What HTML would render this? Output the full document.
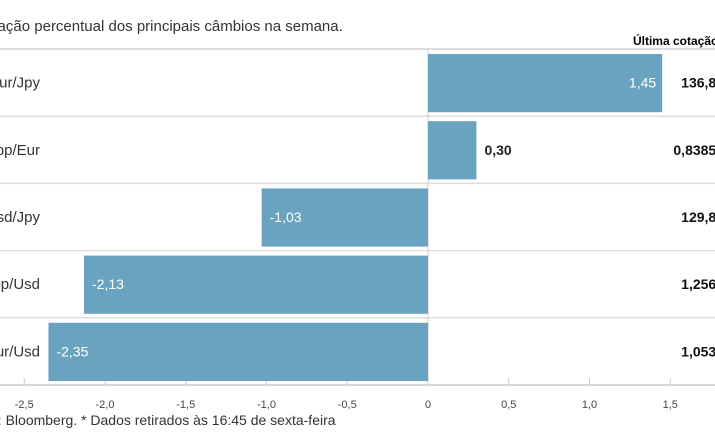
<!DOCTYPE html>
<html><head><meta charset="utf-8"><style>
body{margin:0;width:715px;height:445px;overflow:hidden;background:#fff;font-family:"Liberation Sans Narrow","Liberation Sans",sans-serif;color:#222;position:relative}
svg{position:absolute;left:0;top:0}
</style></head><body>
<svg width="715" height="445" id="c" font-family="Liberation Sans Narrow, Liberation Sans, sans-serif">
<text x="-28" y="31" font-size="15" fill="#333">Variação percentual dos principais câmbios na semana.</text>
<text x="723" y="45" font-size="12" font-weight="bold" text-anchor="end">Última cotação*</text>
<text x="-38" y="425" font-size="14" fill="#333">Fonte: Bloomberg.  * Dados retirados às 16:45 de sexta-feira</text>
</svg>
<script>
const categories=["Eur/Jpy","Gbp/Eur","Usd/Jpy","Gbp/Usd","Eur/Usd"];
const changes=[1.45,0.30,-1.03,-2.13,-2.35];
const quotes=["136,81","0,83856","129,84","1,2565","1,0536"];
const ticks=[-2.5,-2.0,-1.5,-1.0,-0.5,0,0.5,1.0,1.5];
const tickLabels=["-2,5","-2,0","-1,5","-1,0","-0,5","0","0,5","1,0","1,5"];
const svg=document.getElementById('c');const NS="http://www.w3.org/2000/svg";
const x=v=>428+v*161.5;const top0=49,rowH=67.2;
function mk(t,a,p){const e=document.createElementNS(NS,t);for(const k in a)e.setAttribute(k,a[k]);(p||svg).appendChild(e);return e;}
for(let i=0;i<=categories.length;i++){
 const l=mk('line',{x1:0,x2:715,y1:top0+i*rowH,y2:top0+i*rowH,stroke:i==categories.length?'#ccc':'#ddd','stroke-width':i==0?2:1.5});
 
 
}
const zl=mk('line',{x1:x(0),x2:x(0),y1:top0,y2:top0+5*rowH,stroke:'#ccc'});


ticks.forEach((t,i)=>{
 const tl=mk('line',{x1:x(t),x2:x(t),y1:378,y2:385,stroke:'#ccc'});
 
 
 const tx=mk('text',{x:x(t),y:408,'font-size':11,'text-anchor':'middle',fill:'#444'});tx.textContent=tickLabels[i];
 
 
});
categories.forEach((c,i)=>{
 const y0=top0+i*rowH,v=changes[i],cy=y0+rowH/2;
 const lb=mk('text',{x:40,y:cy+5,'font-size':15,'text-anchor':'end',fill:'#333'});lb.textContent=c;
 
 
 const b=mk('rect',{x:Math.min(x(0),x(v)),y:y0+5,width:Math.abs(x(v)-x(0)),height:rowH-9,fill:'#6aa3bf'});
 
 
 const s=v.toFixed(2).replace('.',',');
 const w=Math.abs(x(v)-x(0));let vx,anc,col,fw='normal';
 if(w>60){col='#fff';if(v>0){vx=x(v)-6;anc='end';}else{vx=x(v)+8;anc='start';}}
 else{col='#222';fw='bold';if(v>0){vx=x(v)+8;anc='start';}else{vx=x(v)-8;anc='end';}}
 const vt=mk('text',{x:vx,y:cy+5,'font-size':14,'text-anchor':anc,fill:col,'font-weight':fw});vt.textContent=s;
 
 
 const q=mk('text',{x:724,y:cy+5,'font-size':14,'font-weight':'bold','text-anchor':'end',fill:'#111'});q.textContent=quotes[i];
 
 
});
</script>
</body></html>
